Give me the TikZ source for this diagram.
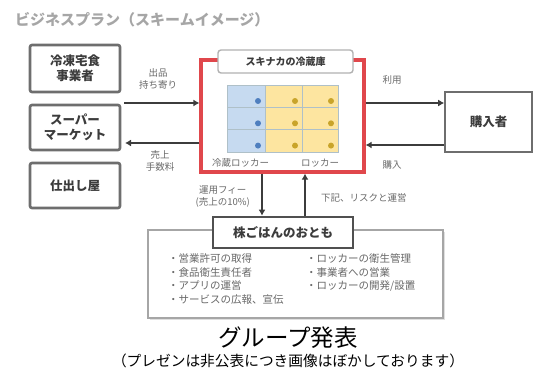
\documentclass[tikz,border=0pt]{standalone}
\usepackage{fontspec}
\setmainfont{Noto Sans CJK JP}
\usetikzlibrary{arrows.meta,shadows}
\definecolor{redline}{HTML}{E0474C}
\definecolor{boxgray}{HTML}{6E6E6E}
\definecolor{txtdark}{HTML}{3C3C3C}
\definecolor{txtgray}{HTML}{686868}
\definecolor{cellblue}{HTML}{C6DAF0}
\definecolor{dotblue}{HTML}{4F7FBF}
\definecolor{cellyellow}{HTML}{FDE5A0}
\definecolor{dotyellow}{HTML}{C9A42A}
\definecolor{celledge}{HTML}{AFC0C8}
\tikzset{
  actor/.style={draw=boxgray,line width=2.6pt,rounded corners=2pt,fill=white,
    text=txtdark,font=\bfseries\fontsize{12.5}{15}\selectfont,align=center,inner sep=0pt},
  small/.style={text=txtgray,font=\fontsize{9.5}{12}\selectfont,align=center,inner sep=0pt},
  arr/.style={draw=txtdark,line width=2.4pt,-{Latex[length=6pt,width=7pt]}},
  cell/.style={draw=celledge,line width=0.6pt},
  listtxt/.style={text=txtgray,font=\fontsize{10.5}{13.5}\selectfont,align=left,inner sep=0pt,anchor=north west}
}
\begin{document}
\begin{tikzpicture}[x=1pt,y=-1pt]
\useasboundingbox (0,0) rectangle (535,369);
% title
\node[anchor=west,text=gray!70,font=\bfseries\fontsize{15}{18}\selectfont,inner sep=0pt] (title) at (15,20) {ビジネスプラン（スキームイメージ）};
% left actors
\node[actor,minimum width=90pt,minimum height=47pt] (frozen) at (75,68.5) {冷凍宅食\\事業者};
\node[actor,minimum width=90pt,minimum height=45pt] (super) at (75,127.5) {スーパー\\マーケット};
\node[actor,minimum width=90pt,minimum height=45pt] (cater) at (75,185.5) {仕出し屋};
% red box
\node[draw=redline,line width=3.2pt,minimum width=163pt,minimum height=112pt,inner sep=0pt] (red) at (282.5,116) {};
\node[draw=gray!60,line width=1.4pt,rounded corners=3pt,fill=white,minimum width=135pt,minimum height=23pt,
  text=txtdark,font=\bfseries\fontsize{10}{12}\selectfont,inner sep=0pt] (redtitle) at (285.5,61.5) {スキナカの冷蔵庫};
% grid of lockers
\foreach \r/\y in {0/85,1/107.3,2/129.6}{
  \filldraw[cell,fill=cellblue] (227,\y) rectangle +(38,22.3);
  \filldraw[cell,fill=cellyellow] (265,\y) rectangle +(37,22.3);
  \filldraw[cell,fill=cellyellow] (302,\y) rectangle +(36,22.3);
  \fill[dotblue] (258,\y+16) circle (3pt);
  \fill[dotyellow] (295,\y+16) circle (3pt);
  \fill[dotyellow] (331,\y+16) circle (3pt);
}
\node[small,anchor=west] (coldlab) at (212,163) {冷蔵ロッカー};
\node[small,anchor=west] (locklab) at (301,163) {ロッカー};
% buyer
\node[draw=boxgray,line width=1.6pt,minimum width=87pt,minimum height=60pt,
  text=txtdark,font=\bfseries\fontsize{12.5}{15}\selectfont,inner sep=0pt] (buyer) at (488.5,122) {購入者};
% bottom box
\node[draw=gray!70,line width=1.6pt,fill=white,minimum width=295pt,minimum height=88pt,inner sep=0pt,
  drop shadow={opacity=0.25,shadow xshift=1.5pt,shadow yshift=-1.5pt}] (base) at (295.5,274) {};
\node[draw=txtdark!90,line width=2.6pt,fill=white,minimum width=140pt,minimum height=31pt,inner sep=0pt,
  text=txtdark,font=\bfseries\fontsize{12.5}{15}\selectfont] (org) at (283,232.5) {株ごはんのおとも};
\node[listtxt] (listl) at (168,253.5) {・営業許可の取得\\・食品衛生責任者\\・アプリの運営\\・サービスの広報、宣伝};
\node[listtxt] (listr) at (306,253.5) {・ロッカーの衛生管理\\・事業者への営業\\・ロッカーの開発/設置};
% arrows left
\coordinate (la) at (124,103);
\coordinate (lb) at (125,143);
\draw[arr] (la) -- (la -| red.west);
\draw[arr] (lb -| red.west) -- (lb);
\node[small] (lab1) at (158,79) {出品\\持ち寄り};
\node[small] (lab2) at (160,161) {売上\\手数料};
% arrows right
\coordinate (ra) at (0,103);
\coordinate (rb) at (0,145);
\draw[arr] (ra -| red.east) -- (ra -| buyer.west);
\draw[arr] (rb -| buyer.west) -- (rb -| red.east);
\node[small] (lab3) at (392,80) {利用};
\node[small] (lab4) at (392,165) {購入};
% vertical arrows
\coordinate (da) at (262,0);
\coordinate (ua) at (305,0);
\draw[arr] (da |- red.south) -- (da |- org.north);
\draw[arr] (ua |- org.north) -- (ua |- red.south);
\node[small,anchor=east] (lab5) at (250,197) {運用フィー\\(売上の10\%)};
\node[small,anchor=west] (lab6) at (321,198) {下記、リスクと運営};
% caption
\node[inner sep=0pt,text=black,font=\fontsize{23.5}{26}\selectfont] (cap1) at (288,338) {グループ発表};
\node[inner sep=0pt,text=black,font=\fontsize{14.7}{16}\selectfont] (cap2) at (288,360.5) {（プレゼンは非公表につき画像はぼかしております）};
\end{tikzpicture}
\end{document}
